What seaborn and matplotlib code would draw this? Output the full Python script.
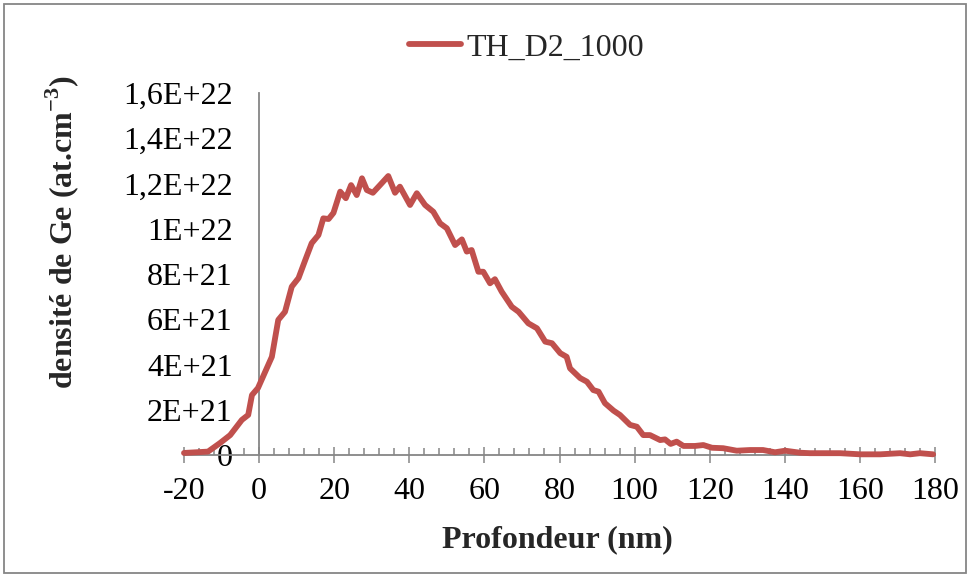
import matplotlib
matplotlib.use("Agg")
import matplotlib.pyplot as plt
import matplotlib.ticker as mticker
from matplotlib.patches import Rectangle
import seaborn as sns

# profil de Ge (densité en unités de 1E+21 at.cm-3)
depth_nm = [
    -20.0, -13.6, -10.4, -7.7, -4.6, -2.9, -1.9, -0.3, 1.6, 3.4, 5.1, 6.9,
    8.7, 10.5, 12.3, 14.0, 15.8, 17.1, 18.5, 19.8, 21.6, 23.1, 24.5, 26.0,
    27.4, 28.7, 30.3, 32.2, 34.4, 36.2, 37.5, 40.2, 42.0, 44.2, 46.4, 48.2,
    50.0, 52.2, 54.0, 55.3, 56.6, 58.4, 59.7, 61.5, 62.8, 64.6, 67.3, 69.1,
    71.7, 74.0, 76.2, 78.0, 80.2, 81.9, 82.8, 85.5, 87.3, 89.0, 90.4, 92.1,
    94.4, 96.1, 98.8, 100.6, 102.3, 104.1, 106.8, 108.1, 109.6, 111.2, 113.0,
    116.1, 118.3, 120.6, 123.6, 127.2, 130.8, 134.2, 137.4, 140.1, 144.1,
    146.7, 151.2, 154.7, 160.1, 165.4, 170.7, 173.4, 176.0, 179.5,
]
ge_density_e21 = [
    0.09, 0.15, 0.53, 0.88, 1.55, 1.77, 2.65, 2.96, 3.67, 4.34, 5.97, 6.33,
    7.44, 7.82, 8.62, 9.36, 9.72, 10.46, 10.43, 10.70, 11.64, 11.35, 11.93, 11.49,
    12.23, 11.71, 11.59, 11.93, 12.33, 11.59, 11.86, 11.05, 11.57, 11.05, 10.75, 10.24,
    10.02, 9.28, 9.53, 8.99, 9.06, 8.10, 8.10, 7.59, 7.77, 7.22, 6.55, 6.33,
    5.82, 5.60, 5.01, 4.94, 4.50, 4.34, 3.83, 3.40, 3.24, 2.87, 2.80, 2.29,
    1.96, 1.77, 1.33, 1.25, 0.88, 0.88, 0.66, 0.69, 0.49, 0.59, 0.40,
    0.40, 0.44, 0.32, 0.30, 0.19, 0.22, 0.22, 0.12, 0.19, 0.10,
    0.08, 0.08, 0.08, 0.03, 0.03, 0.08, 0.03, 0.08, 0.03,
]
series_name = "TH_D2_1000"

x_ticks = [-20, 0, 20, 40, 60, 80, 100, 120, 140, 160, 180]
x_tick_labels = ["-20", "0", "20", "40", "60", "80", "100", "120", "140", "160", "180"]
y_ticks = [0, 2, 4, 6, 8, 10, 12, 14, 16]
y_tick_labels = ["0", "2E+21", "4E+21", "6E+21", "8E+21", "1E+22",
                 "1,2E+22", "1,4E+22", "1,6E+22"]

AXIS_GREY = "#868686"
LINE_RED = "#C0504D"
FS = 23

sns.set_theme(style="white")
plt.rcParams["font.family"] = ["Liberation Serif", "DejaVu Serif"]
plt.rcParams["mathtext.fontset"] = "custom"
plt.rcParams["mathtext.rm"] = "Liberation Serif"
plt.rcParams["mathtext.bf"] = "Liberation Serif:bold"

fig = plt.figure(figsize=(9.7, 5.76), dpi=100)
ax = fig.add_axes([184 / 970, 1 - 455 / 576, 751 / 970, 362 / 576])

sns.lineplot(x=depth_nm, y=ge_density_e21, ax=ax, color=LINE_RED, linewidth=4.2,
             label=series_name, clip_on=False, zorder=5,
             solid_joinstyle="round", solid_capstyle="round")

ax.set_xlim(-20, 180)
ax.set_ylim(0, 16)

# axes à la Excel : axe vertical en x=0, axe horizontal en y=0
ax.spines["left"].set_position(("data", 0))
for s in ["top", "right"]:
    ax.spines[s].set_visible(False)
for s in ["left", "bottom"]:
    ax.spines[s].set_color(AXIS_GREY)
    ax.spines[s].set_linewidth(1.3)

ax.set_xticks(x_ticks)
ax.set_xticklabels(x_tick_labels)
ax.xaxis.set_minor_locator(mticker.MultipleLocator(4))
ax.tick_params(axis="x", which="both", bottom=True)
ax.tick_params(axis="x", which="major", direction="inout", length=11.5, width=1.1,
               color=AXIS_GREY, pad=10, labelsize=FS, labelcolor="black")
ax.tick_params(axis="x", which="minor", direction="in", length=5, width=1.1,
               color=AXIS_GREY)

ax.set_yticks(y_ticks)
ax.set_yticklabels(y_tick_labels)
ax.tick_params(axis="y", which="both", left=False, length=0, pad=19,
               labelsize=FS, labelcolor="black")

ax.set_xlabel("")
ax.set_ylabel("")
fig.text(557 / 970, 1 - 540 / 576, "Profondeur (nm)", ha="center", va="center",
         fontsize=FS, fontweight="bold")
fig.text(62 / 970, 1 - 232 / 576, r"densité de Ge (at.cm$^{\mathbf{-3}}$)",
         rotation=90, ha="center", va="center", fontsize=FS, fontweight="bold")

ax.legend(loc="center", bbox_to_anchor=(527 / 970, 1 - 48 / 576),
          bbox_transform=fig.transFigure, frameon=False, fontsize=FS,
          handlelength=1.6, handletextpad=0.2)

fig.patches.append(Rectangle((4 / 970, 3 / 576), 962 / 970, 569 / 576,
                             transform=fig.transFigure, fill=False,
                             edgecolor=AXIS_GREY, linewidth=1.3))

fig.savefig("out.png", dpi=100)
plt.close(fig)
